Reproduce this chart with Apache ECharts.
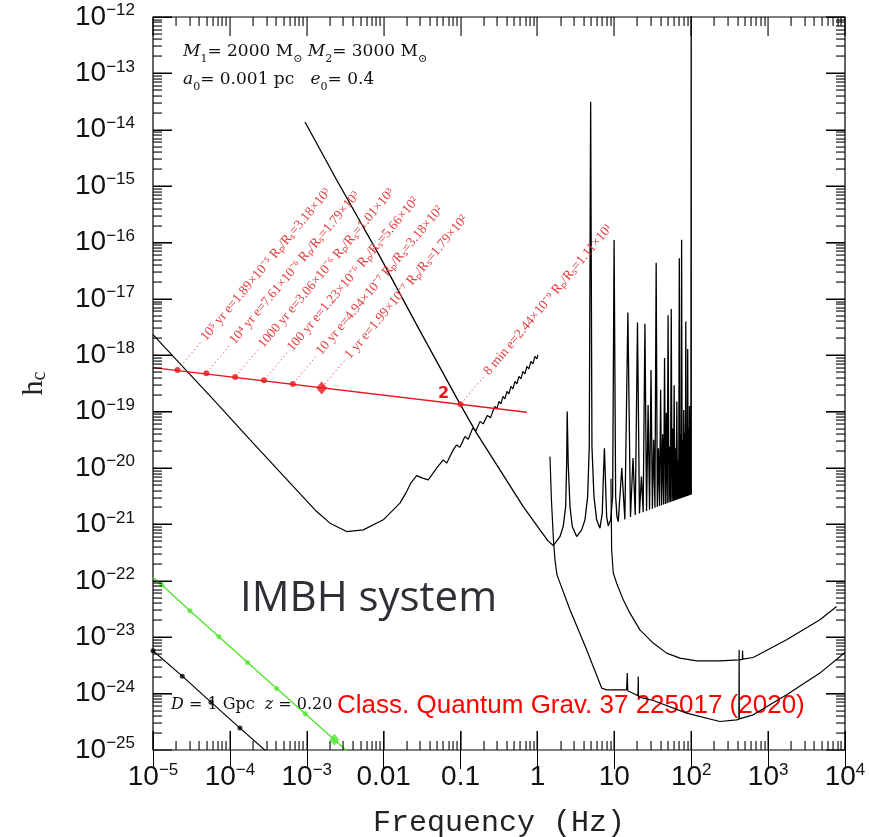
<!DOCTYPE html>
<html>
<head>
<meta charset="utf-8">
<script src="https://cdn.jsdelivr.net/npm/echarts@6/dist/echarts.min.js"></script>
<style>
  html, body { margin: 0; padding: 0; background: #fff; }
  #chart { width: 869px; height: 837px; }
</style>
</head>
<body>
<div id="chart"></div>
<script>
// Every curve point below is [log10 f (Hz), log10 h_c].

// Space-borne detector sensitivity (with high-frequency transfer-function ripples)
const spaceDetector = [
  [-5.000,-17.633],[-4.562,-18.277],[-4.172,-18.849],[-3.739,-19.495],[-3.306,-20.133],
  [-2.871,-20.771],[-2.698,-20.977],[-2.481,-21.126],[-2.265,-21.096],[-2.005,-20.918],
  [-1.788,-20.622],[-1.701,-20.417],[-1.645,-20.262],[-1.571,-20.133],[-1.502,-20.174],
  [-1.420,-20.209],[-1.311,-20.002],[-1.225,-19.855],[-1.181,-19.913],[-1.095,-19.677],
  [-1.051,-19.589],[-1.008,-19.629],[-0.943,-19.441],[-0.900,-19.488],[-0.843,-19.293],
  [-0.800,-19.340],[-0.748,-19.176],[-0.705,-19.216],[-0.653,-19.069],[-0.609,-19.105],
  [-0.579,-18.986],[-0.553,-18.906],[-0.527,-18.950],[-0.501,-18.817],[-0.475,-18.862],
  [-0.449,-18.729],[-0.423,-18.773],[-0.397,-18.640],[-0.371,-18.684],[-0.345,-18.551],
  [-0.319,-18.596],[-0.293,-18.463],[-0.267,-18.507],[-0.241,-18.374],[-0.215,-18.418],
  [-0.189,-18.286],[-0.163,-18.330],[-0.137,-18.197],[-0.111,-18.241],[-0.085,-18.108],
  [-0.059,-18.152],[-0.033,-18.020],[-0.007,-18.064],[0.006,-17.993]
];

// Resonant detector: steep low-frequency wall and the first resonances (2.5 - 10 Hz)
const resonantLow = [
  [-3.023,-13.862],[-2.611,-14.890],[-2.048,-16.250],[-1.528,-17.567],[-1.008,-18.862],
  [-0.791,-19.381],[-0.488,-20.032],[-0.185,-20.683],[0.033,-21.096],[0.137,-21.291],
  [0.205,-21.374],[0.293,-21.215],[0.335,-21.037],[0.367,-20.683],[0.380,-19.913],
  [0.387,-18.998],[0.400,-19.913],[0.423,-20.683],[0.453,-21.037],[0.510,-21.215],
  [0.575,-21.096],[0.618,-20.918],[0.653,-20.505],[0.674,-19.619],[0.692,-13.502],
  [0.709,-19.619],[0.735,-20.505],[0.770,-20.918],[0.813,-21.066],[0.843,-20.800],
  [0.856,-20.209],[0.871,-19.647],[0.884,-20.209],[0.900,-20.860],[0.921,-21.025],
  [0.952,-20.918],[0.978,-20.505],[0.997,-15.954],[1.017,-20.505],[1.034,-20.860],
  [1.051,-20.949]
];

// Higher resonances of the same detector: peak frequency (Hz), peak log10 h_c,
// and the troughs between neighbouring peaks.
const combPeakHz = [12.5,15,17.5,20,22.5,25,27.5,30,32.5,35,37.5,40,42.5,45,47.5,50,52.5,55,
  57.5,60,62.5,65,67.5,70,72.5,75,77.5,80,82.5,85,87.5,90,92.5,95,97.5,100];
const combPeakLogH = [-20.00,-17.24,-19.82,-17.42,-20.15,-17.44,-18.88,-18.26,-19.50,-16.36,
  -19.65,-18.61,-19.40,-18.05,-19.02,-17.29,-19.62,-17.18,-19.30,-18.53,-19.65,-18.82,-19.86,
  -16.28,-19.40,-15.95,-19.50,-18.97,-19.38,-17.40,-19.44,-17.89,-19.30,-18.90,-19.20,-11.50];
const combTroughLogF = [1.137,1.210,1.272,1.327,1.375,1.419,1.458,1.495,1.528,1.559,1.588,
  1.615,1.641,1.665,1.688,1.710,1.730,1.750,1.769,1.787,1.805,1.821,1.837,1.853,1.868,1.882,
  1.896,1.910,1.923,1.936,1.948,1.960,1.972,1.984,1.995,2.001];
const combTroughLogH = [-20.910,-20.865,-20.833,-20.807,-20.782,-20.759,-20.739,-20.722,
  -20.704,-20.688,-20.674,-20.660,-20.647,-20.635,-20.622,-20.612,-20.601,-20.592,-20.582,
  -20.573,-20.564,-20.557,-20.548,-20.541,-20.534,-20.527,-20.520,-20.512,-20.507,-20.500,
  -20.495,-20.489,-20.482,-20.477,-20.472,-20.470];

// Third-generation ground detector
const groundDeep = [
  [0.163,-19.796],[0.182,-20.564],[0.208,-21.273],[0.228,-21.628],[0.254,-21.894],
  [0.423,-22.514],[0.640,-23.223],[0.835,-23.902],[0.900,-23.933],[1.160,-23.933],
  [1.168,-23.636],[1.175,-23.950],[1.307,-24.039],[1.311,-23.695],[1.315,-24.057],
  [1.506,-24.122],[1.940,-24.346],[2.373,-24.495],[2.590,-24.465],[2.620,-24.456],
  [2.623,-23.223],[2.626,-24.447],[2.806,-24.376],[3.241,-24.021],[3.674,-23.636],
  [3.999,-23.271]
];

// Second-generation ground detector
const groundAdv = [
  [0.956,-20.191],[0.965,-21.449],[0.986,-21.862],[1.030,-22.041],[1.116,-22.337],
  [1.203,-22.573],[1.333,-22.869],[1.506,-23.104],[1.680,-23.282],[1.853,-23.371],
  [2.070,-23.418],[2.373,-23.418],[2.620,-23.401],[2.666,-23.392],[2.668,-23.236],
  [2.671,-23.388],[2.806,-23.360],[3.241,-23.046],[3.674,-22.691],[3.891,-22.456]
];

// IMBH binary track (a0 = 0.001 pc)
const trackLine = [[-5.0,-18.218],[-0.14,-19.009]];
const trackLogF = [-4.681,-4.306,-3.931,-3.556,-3.181,-2.806,-1.0];
const trackLogH = [-18.259,-18.317,-18.383,-18.441,-18.507,-18.578,-18.867];
const trackDiamond = 5;
const trackLabels = [
  '10\u2075 yr e=1.89\u00d710\u207b\u2075 R\u209a/R\u209b=3.18\u00d710\u00b3',
  '10\u2074 yr e=7.61\u00d710\u207b\u2076 R\u209a/R\u209b=1.79\u00d710\u00b3',
  '1000 yr e=3.06\u00d710\u207b\u2076 R\u209a/R\u209b=1.01\u00d710\u00b3',
  '100 yr e=1.23\u00d710\u207b\u2076 R\u209a/R\u209b=5.66\u00d710\u00b2',
  '10 yr e=4.94\u00d710\u207b\u2077 R\u209a/R\u209b=3.18\u00d710\u00b2',
  '1 yr e=1.99\u00d710\u207b\u2077 R\u209a/R\u209b=1.79\u00d710\u00b2',
  '8 min e=2.44\u00d710\u207b\u2079 R\u209a/R\u209b=1.11\u00d710\u00b9'
];

// Green track
const greenStart = [-5.0,-21.94];
const greenEnd = [-2.45,-25.05];
const greenLogF = [-4.887,-4.519,-4.142,-3.769,-3.391,-3.020,-2.642];
const greenLogH = [-22.071,-22.532,-22.993,-23.449,-23.910,-24.358,-24.819];

// Black track at D = 1 Gpc
const farLogF = [-5.0,-4.619,-4.246,-3.869];
const farLogH = [-23.241,-23.690,-24.151,-24.612];
const farEnd = [-3.504,-25.05];

// Axis ranges (decades)
const xExp = [-5, 4];
const yExp = [-25, -12];
const X_MIN = 1e-5, X_MAX = 1e4, Y_MIN = 1e-25, Y_MAX = 1e-12;

const P = p => [Math.pow(10, p[0]), Math.pow(10, p[1])];
const zipLog = (fs, hs) => fs.map((f, i) => P([f, hs[i]]));

// Assemble the resonant curve from its low part and the comb of peaks/troughs
const resonantCurve = resonantLow.map(P);
combPeakHz.forEach((hz, i) => {
  resonantCurve.push([hz, Math.pow(10, combPeakLogH[i])]);
  resonantCurve.push(P([combTroughLogF[i], combTroughLogH[i]]));
});

const trackPts = zipLog(trackLogF, trackLogH);
const greenPts = zipLog(greenLogF, greenLogH);
const farPts = zipLog(farLogF, farLogH);

// Tick values: majors at decades, minors at 2..9
function tickList(e0, e1) {
  const out = [];
  for (let e = e0; e < e1; e++) {
    for (let k = 1; k <= 9; k++) out.push([k * Math.pow(10, e), k === 1 ? 1 : 0]);
  }
  out.push([Math.pow(10, e1), 1]);
  return out;
}

const RED = '#e8151b';
const RED_SOFT = '#e23c3e';
const GREEN = '#4fe62c';
const INK = '#000';
const SERIF = '"DejaVu Serif", "Liberation Serif", serif';
const LABEL_FONT = '"Liberation Sans", Arial, sans-serif';
const MAJOR = 19, MINOR = 9;

// Dotted leaders and slanted annotations along the track
function renderTrackNotes(params, api) {
  const i = api.value(2);
  const p = api.coord([api.value(0), api.value(1)]);
  const a = 50 * Math.PI / 180, c = Math.cos(a), s = Math.sin(a);
  const kids = [
    { type: 'line', shape: { x1: p[0] + 5 * c, y1: p[1] - 5 * s, x2: p[0] + 36 * c, y2: p[1] - 36 * s },
      style: { stroke: RED_SOFT, lineWidth: 1, lineDash: [1.2, 3] } },
    { type: 'text', x: p[0] + 40 * c, y: p[1] - 40 * s, rotation: a,
      style: { text: trackLabels[i], fill: RED_SOFT, font: '13.5px "Liberation Serif", serif',
               align: 'left', verticalAlign: 'middle', textAlign: 'left', textVerticalAlign: 'middle' } }
  ];
  if (i === trackLabels.length - 1) {
    kids.push({ type: 'text', x: p[0] - 17, y: p[1] - 10,
      style: { text: '2', fill: RED, font: 'bold 16px "DejaVu Sans", sans-serif',
               align: 'center', verticalAlign: 'middle', textAlign: 'center', textVerticalAlign: 'middle' } });
  }
  return { type: 'group', children: kids };
}

function expOf(v) { return Math.round(Math.log10(v)); }
function supText(e) { return (e < 0 ? '\u2212' : '') + Math.abs(e); }
function xLabel(v) {
  const e = expOf(v);
  if (!isFinite(e)) return '';
  if (e === -2) return '{b|0.01}';
  if (e === -1) return '{b|0.1}';
  if (e === 0) return '{b|1}';
  if (e === 1) return '{b|10}';
  return '{b|10}{s|' + supText(e) + '}';
}
const labelRich = {
  b: { fontSize: 28, fontFamily: LABEL_FONT, color: '#111', lineHeight: 30 },
  s: { fontSize: 17, fontFamily: LABEL_FONT, color: '#111', lineHeight: 17, verticalAlign: 'top' }
};
const labelRichFill = {
  b: { fontSize: 28, fontFamily: LABEL_FONT, fill: '#111', lineHeight: 30 },
  s: { fontSize: 17, fontFamily: LABEL_FONT, fill: '#111', lineHeight: 17, verticalAlign: 'top' }
};

// Decade ticks drawn by the axes themselves (pointing into the frame)
const decadeTick = { show: true, inside: true, length: MAJOR, lineStyle: { color: INK, width: 1 } };

const lineBase = { type: 'line', symbol: 'none', showSymbol: false, silent: true,
                   lineStyle: { color: INK, width: 1.2 }, z: 2 };

const option = {
  animation: false,
  backgroundColor: '#fff',
  grid: { left: 153, top: 17, right: 24, bottom: 87, containLabel: false, outerBoundsMode: 'none',
          show: true, borderColor: INK, borderWidth: 1.2, backgroundColor: 'transparent' },
  xAxis: [{
    type: 'log', logBase: 10, min: X_MIN, max: X_MAX,
    axisLine: { show: false }, axisTick: decadeTick, splitLine: { show: false },
    axisLabel: { formatter: xLabel, rich: labelRich, margin: 12, interval: 0,
                 showMinLabel: true, showMaxLabel: true, hideOverlap: false },
    name: 'Frequency (Hz)', nameLocation: 'middle', nameGap: 58,
    nameTextStyle: { fontFamily: '"Liberation Mono", "DejaVu Sans Mono", monospace', fontSize: 30, color: '#222' }
  }, {
    type: 'log', logBase: 10, min: X_MIN, max: X_MAX, position: 'top',
    axisLine: { show: false }, axisTick: decadeTick, splitLine: { show: false },
    axisLabel: { show: false }
  }],
  yAxis: [{
    type: 'log', logBase: 10, min: Y_MIN, max: Y_MAX, interval: 1,
    axisLine: { show: false }, axisTick: decadeTick, splitLine: { show: false },
    axisLabel: { show: false }
  }, {
    type: 'log', logBase: 10, min: Y_MIN, max: Y_MAX, interval: 1, position: 'right',
    axisLine: { show: false }, axisTick: decadeTick, splitLine: { show: false },
    axisLabel: { show: false }
  }],
  series: [
    Object.assign({}, lineBase, { name: 'space detector', data: spaceDetector.map(P) }),
    Object.assign({}, lineBase, { name: 'resonant detector', data: resonantCurve,
                                  lineStyle: { color: INK, width: 1.3 } }),
    Object.assign({}, lineBase, { name: 'third-generation', data: groundDeep.map(P) }),
    Object.assign({}, lineBase, { name: 'advanced', data: groundAdv.map(P) }),
    { type: 'line', name: 'track', data: trackLine.map(P), symbol: 'none', silent: true,
      lineStyle: { color: RED, width: 1.4 }, z: 3 },
    { type: 'scatter', name: 'track points', silent: true, z: 4,
      data: trackPts.map((p, i) => ({ value: p, symbol: i === trackDiamond ? 'diamond' : 'circle',
                                      symbolSize: i === trackDiamond ? [11, 13] : 6 })),
      itemStyle: { color: RED } },
    { type: 'line', name: 'green track', silent: true, symbol: 'none', z: 3,
      data: [P(greenStart)].concat(greenPts, [P(greenEnd)]),
      lineStyle: { color: GREEN, width: 1.4 } },
    { type: 'scatter', name: 'green points', silent: true, z: 4,
      data: greenPts.map((p, i) => ({ value: p, symbol: i === greenPts.length - 1 ? 'diamond' : 'circle',
                                      symbolSize: i === greenPts.length - 1 ? [10, 12] : 5 })),
      itemStyle: { color: GREEN } },
    { type: 'line', name: 'far track', silent: true, symbol: 'none', z: 3,
      data: farPts.concat([P(farEnd)]), lineStyle: { color: INK, width: 1.2 } },
    { type: 'scatter', name: 'far points', silent: true, z: 4, data: farPts,
      symbol: 'circle', symbolSize: 5, itemStyle: { color: INK } },
    { type: 'custom', name: 'track notes', silent: true, z: 5, clip: false,
      data: trackPts.map((p, i) => [p[0], p[1], i]), encode: { x: 0, y: 1 },
      renderItem: renderTrackNotes }
  ]
};

// Fixed text blocks
const notes = [
  { type: 'text', x: 183, y: 52, silent: true, style: {
      text: '{i|M}{s|1}{n|= 2000 M}{s|\u2299}{n| }{i|M}{s|2}{n|= 3000 M}{s|\u2299}',
      verticalAlign: 'middle', textVerticalAlign: 'middle',
      rich: {
        i: { fontFamily: SERIF, fontStyle: 'italic', fontSize: 17, lineHeight: 26, fill: '#111' },
        n: { fontFamily: SERIF, fontSize: 17, lineHeight: 26, fill: '#111' },
        s: { fontFamily: SERIF, fontSize: 11, lineHeight: 12, verticalAlign: 'bottom', fill: '#111' }
      } } },
  { type: 'text', x: 183, y: 80, silent: true, style: {
      text: '{i|a}{s|0}{n|= 0.001 pc   }{i|e}{s|0}{n|= 0.4}',
      verticalAlign: 'middle', textVerticalAlign: 'middle',
      rich: {
        i: { fontFamily: SERIF, fontStyle: 'italic', fontSize: 17, lineHeight: 26, fill: '#111' },
        n: { fontFamily: SERIF, fontSize: 17, lineHeight: 26, fill: '#111' },
        s: { fontFamily: SERIF, fontSize: 11, lineHeight: 12, verticalAlign: 'bottom', fill: '#111' }
      } } },
  { type: 'text', x: 171, y: 705, silent: true, style: {
      text: '{i|D}{n| = 1 Gpc  }{i|z}{n| = 0.20}',
      verticalAlign: 'middle', textVerticalAlign: 'middle',
      rich: {
        i: { fontFamily: SERIF, fontStyle: 'italic', fontSize: 16, fill: '#111' },
        n: { fontFamily: SERIF, fontSize: 16, fill: '#111' }
      } } },
  { type: 'text', x: 240, y: 599, silent: true, style: {
      text: 'IMBH system', fill: '#2f2f35', font: '42px "Open Sans", sans-serif',
      verticalAlign: 'middle', textVerticalAlign: 'middle' } },
  { type: 'text', x: 337, y: 706, silent: true, style: {
      text: 'Class. Quantum Grav. 37 225017 (2020)', fill: '#ff0000',
      font: '26px "Liberation Sans", Arial, sans-serif',
      verticalAlign: 'middle', textVerticalAlign: 'middle' } }
];

const chart = echarts.init(document.getElementById('chart'), null, { renderer: 'canvas' });
chart.setOption(option);

// Minor frame ticks (2..9 in each decade) on all four sides, y-axis labels and
// the y-axis title, positioned through the axes' own scales.
function frameDecor() {
  const lo = chart.convertToPixel({ gridIndex: 0 }, [X_MIN, Y_MIN]);
  const hi = chart.convertToPixel({ gridIndex: 0 }, [X_MAX, Y_MAX]);
  const L = lo[0], B = lo[1], R = hi[0], T = hi[1];
  const els = [];
  const bar = (x, y, w, h) => els.push({ type: 'rect', z: 20,
    shape: { x: x, y: y, width: w, height: h }, style: { fill: '#000', stroke: null } });
  tickList(xExp[0], xExp[1]).forEach(t => {
    const x = Math.round(chart.convertToPixel({ xAxisIndex: 0 }, t[0]));
    const len = t[1] ? MAJOR : MINOR;
    bar(x - 0.5, B - len, 1.1, len);
    bar(x - 0.5, T, 1.1, len);
  });
  tickList(yExp[0], yExp[1]).forEach(t => {
    const y = Math.round(chart.convertToPixel({ yAxisIndex: 0 }, t[0]));
    const len = t[1] ? MAJOR : MINOR;
    bar(L, y - 0.5, len, 1.1);
    bar(R - len, y - 0.5, len, 1.1);
  });
  for (let e = yExp[0]; e <= yExp[1]; e++) {
    const y = chart.convertToPixel({ yAxisIndex: 0 }, Math.pow(10, e));
    els.push({ type: 'text', x: L - 18, y: y, style: {
      text: '{b|10}{s|' + supText(e) + '}', rich: labelRichFill,
      align: 'right', verticalAlign: 'middle', textAlign: 'right', textVerticalAlign: 'middle' } });
  }
  els.push({ type: 'text', x: 34, y: (T + B) / 2, rotation: Math.PI / 2, style: {
    text: '{h|h}{c|c}', align: 'center', verticalAlign: 'middle',
    textAlign: 'center', textVerticalAlign: 'middle',
    rich: {
      h: { fontFamily: '"Liberation Serif", serif', fontSize: 30, fill: '#222', lineHeight: 32 },
      c: { fontFamily: '"Liberation Serif", serif', fontSize: 20, fill: '#222', lineHeight: 20, verticalAlign: 'bottom' }
    } } });
  return els;
}

chart.setOption({ graphic: { elements: notes.concat(frameDecor()) } });
</script>
</body>
</html>
